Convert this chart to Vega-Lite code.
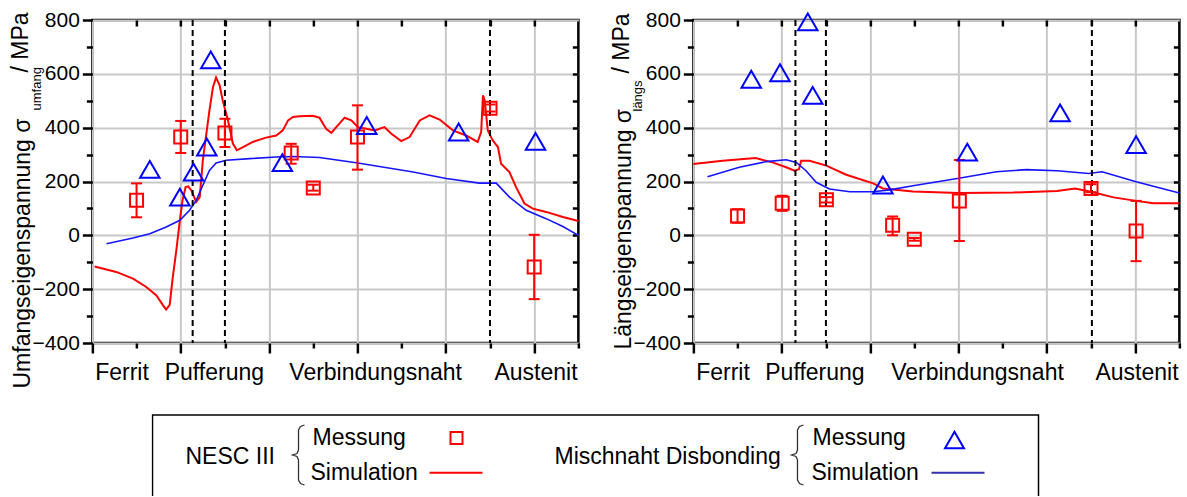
{
  "$schema": "https://vega.github.io/schema/vega-lite/v6.json",
  "padding": {"left": 8, "top": 7, "right": 0, "bottom": 0},
  "spacing": 24,
  "center": true,
  "config": {
    "font": "Liberation Sans",
    "view": {"stroke": "black", "strokeWidth": 2.5},
    "axis": {"domain": false, "tickColor": "black", "tickWidth": 2.5, "gridColor": "#c8c8c8", "gridWidth": 2, "labelFontSize": 21, "titleFontSize": 23, "titleFontWeight": "normal", "labelColor": "black", "titleColor": "black", "labelFlush": false, "labelOverlap": false, "labelBound": false}
  },
  "datasets": {
    "umfNescSim": [
      {"x":0.05,"y":-116},{"x":0.54,"y":-136},{"x":0.92,"y":-161},{"x":1.22,"y":-192},{"x":1.45,"y":-223},{"x":1.60,"y":-260},{"x":1.67,"y":-276},{"x":1.75,"y":-258},{"x":1.82,"y":-155},{"x":1.90,"y":-56},{"x":1.98,"y":56},{"x":2.04,"y":130},{"x":2.11,"y":179},{"x":2.17,"y":182},{"x":2.24,"y":167},{"x":2.35,"y":124},{"x":2.43,"y":142},{"x":2.50,"y":279},{"x":2.58,"y":378},{"x":2.65,"y":464},{"x":2.73,"y":551},{"x":2.80,"y":586},{"x":2.88,"y":557},{"x":2.95,"y":501},{"x":3.07,"y":427},{"x":3.18,"y":341},{"x":3.27,"y":316},{"x":3.41,"y":328},{"x":3.63,"y":347},{"x":3.93,"y":363},{"x":4.16,"y":371},{"x":4.31,"y":390},{"x":4.43,"y":427},{"x":4.54,"y":440},{"x":4.69,"y":442},{"x":4.99,"y":444},{"x":5.14,"y":437},{"x":5.29,"y":396},{"x":5.41,"y":381},{"x":5.52,"y":402},{"x":5.71,"y":437},{"x":5.86,"y":427},{"x":6.01,"y":402},{"x":6.20,"y":396},{"x":6.39,"y":390},{"x":6.61,"y":402},{"x":6.76,"y":378},{"x":6.99,"y":350},{"x":7.18,"y":365},{"x":7.41,"y":427},{"x":7.63,"y":446},{"x":7.86,"y":430},{"x":8.16,"y":390},{"x":8.46,"y":371},{"x":8.72,"y":347},{"x":8.80,"y":384},{"x":8.84,"y":520},{"x":8.88,"y":501},{"x":8.95,"y":390},{"x":9.06,"y":353},{"x":9.18,"y":328},{"x":9.25,"y":266},{"x":9.44,"y":235},{"x":9.59,"y":179},{"x":9.78,"y":118},{"x":9.97,"y":99},{"x":10.27,"y":87},{"x":10.65,"y":68},{"x":11.0,"y":53}
    ],
    "umfMndSim": [
      {"x":0.32,"y":-31},{"x":0.92,"y":-10},{"x":1.30,"y":6},{"x":1.67,"y":31},{"x":1.98,"y":56},{"x":2.20,"y":93},{"x":2.35,"y":130},{"x":2.50,"y":186},{"x":2.65,"y":241},{"x":2.80,"y":269},{"x":3.03,"y":279},{"x":3.56,"y":285},{"x":4.16,"y":291},{"x":4.54,"y":293},{"x":5.14,"y":289},{"x":6.01,"y":269},{"x":7.26,"y":235},{"x":8.01,"y":211},{"x":8.76,"y":194},{"x":9.14,"y":194},{"x":9.44,"y":142},{"x":9.82,"y":93},{"x":10.27,"y":62},{"x":10.65,"y":33},{"x":11.0,"y":0}
    ],
    "umfNescMess": [
      {"x":1.0,"y":130,"lo":67,"hi":193},{"x":2.0,"y":365,"lo":306,"hi":425},{"x":3.0,"y":380,"lo":328,"hi":433},{"x":4.5,"y":306,"lo":266,"hi":340},{"x":5.0,"y":176,"lo":166,"hi":188},{"x":6.0,"y":365,"lo":244,"hi":483},{"x":9.0,"y":472,"lo":460,"hi":486},{"x":10.0,"y":-118,"lo":-237,"hi":2}
    ],
    "umfMndMess": [
      {"x":1.30,"y":245},{"x":1.98,"y":142},{"x":2.29,"y":235},{"x":2.59,"y":328},{"x":2.68,"y":652},{"x":4.30,"y":270},{"x":6.21,"y":408},{"x":8.29,"y":384},{"x":10.03,"y":349}
    ],
    "umfDash": [{"x":2.27},{"x":3.0},{"x":9.0}],
    "lngNescSim": [
      {"x":0.0,"y":265},{"x":0.66,"y":277},{"x":1.41,"y":287},{"x":1.79,"y":271},{"x":2.10,"y":253},{"x":2.29,"y":240},{"x":2.39,"y":246},{"x":2.44,"y":277},{"x":2.63,"y":277},{"x":3.01,"y":259},{"x":3.46,"y":225},{"x":4.07,"y":193},{"x":4.29,"y":174},{"x":4.97,"y":163},{"x":6.01,"y":157},{"x":7.24,"y":159},{"x":8.23,"y":165},{"x":8.64,"y":174},{"x":9.0,"y":162},{"x":9.51,"y":141},{"x":10.02,"y":128},{"x":10.41,"y":119},{"x":11.0,"y":119}
    ],
    "lngMndSim": [
      {"x":0.32,"y":218},{"x":1.04,"y":253},{"x":1.65,"y":274},{"x":2.10,"y":281},{"x":2.33,"y":271},{"x":2.55,"y":240},{"x":2.78,"y":197},{"x":3.08,"y":172},{"x":3.54,"y":162},{"x":4.07,"y":162},{"x":4.44,"y":169},{"x":4.97,"y":184},{"x":6.01,"y":212},{"x":6.86,"y":236},{"x":7.54,"y":244},{"x":8.23,"y":240},{"x":8.95,"y":230},{"x":9.25,"y":236},{"x":10.02,"y":199},{"x":11.0,"y":157}
    ],
    "lngNescMess": [
      {"x":1.0,"y":72,"lo":47,"hi":97},{"x":2.01,"y":119,"lo":91,"hi":147},{"x":3.01,"y":132,"lo":122,"hi":142},{"x":4.51,"y":37,"lo":0,"hi":70},{"x":5.0,"y":-15,"lo":-20,"hi":-10},{"x":6.02,"y":128,"lo":-21,"hi":280},{"x":9.0,"y":174,"lo":160,"hi":190},{"x":10.02,"y":16,"lo":-96,"hi":128}
    ],
    "lngMndMess": [
      {"x":1.31,"y":580},{"x":1.96,"y":604},{"x":2.59,"y":793},{"x":2.70,"y":520},{"x":4.29,"y":187},{"x":6.2,"y":309},{"x":8.3,"y":455},{"x":10.02,"y":337}
    ],
    "lngDash": [{"x":2.31},{"x":3.0},{"x":9.02}],
    "legBox": [{"x":1,"x2":887,"y":1,"y2":200}],
    "legText": [
      {"t":"NESC III","lx":34,"ly":43},{"t":"Messung","lx":161,"ly":24},{"t":"Simulation","lx":159,"ly":59},
      {"t":"Mischnaht Disbonding","lx":403,"ly":43},{"t":"Messung","lx":661,"ly":24},{"t":"Simulation","lx":660,"ly":59}
    ],
    "legBrace": [
      {"b":1,"o":1,"lx":153,"ly":11},{"b":1,"o":2,"lx":149,"ly":12.5},{"b":1,"o":3,"lx":147,"ly":16},{"b":1,"o":4,"lx":147,"ly":36},{"b":1,"o":5,"lx":145.5,"ly":39.5},{"b":1,"o":6,"lx":141,"ly":41},{"b":1,"o":7,"lx":145.5,"ly":42.5},{"b":1,"o":8,"lx":147,"ly":46},{"b":1,"o":9,"lx":147,"ly":66},{"b":1,"o":10,"lx":149,"ly":69.5},{"b":1,"o":11,"lx":153,"ly":71},
      {"b":2,"o":1,"lx":652,"ly":11},{"b":2,"o":2,"lx":648,"ly":12.5},{"b":2,"o":3,"lx":646,"ly":16},{"b":2,"o":4,"lx":646,"ly":36},{"b":2,"o":5,"lx":644.5,"ly":39.5},{"b":2,"o":6,"lx":640,"ly":41},{"b":2,"o":7,"lx":644.5,"ly":42.5},{"b":2,"o":8,"lx":646,"ly":46},{"b":2,"o":9,"lx":646,"ly":66},{"b":2,"o":10,"lx":648,"ly":69.5},{"b":2,"o":11,"lx":652,"ly":71}
    ],
    "legSquare": [{"lx":305,"ly":24}],
    "legTriangle": [{"lx":803,"ly":26}],
    "legRed": [{"lx":278,"lx2":331,"ly":58.7}],
    "legBlue": [{"lx":780,"lx2":833,"ly":58.7}]
  },
  "vconcat": [
    {
      "spacing": 24,
      "hconcat": [
        {
          "width": 486, "height": 323,
          "resolve": {"axis": {"x": "independent", "y": "independent"}},
          "layer": [
            {
              "data": {"name": "umfNescSim"},
              "mark": {"type": "line", "color": "#ff0000", "strokeWidth": 2},
              "encoding": {
                "x": {"field": "x", "type": "quantitative", "scale": {"domain": [0, 11], "nice": false, "zero": false},
                  "axis": {"orient": "bottom", "values": [0, 2, 4, 6, 8, 10], "labels": false, "grid": true, "tickSize": 10, "title": null}},
                "y": {"field": "y", "type": "quantitative", "scale": {"domain": [-400, 800], "nice": false, "zero": false},
                  "axis": {"orient": "left", "values": [-400, -200, 0, 200, 400, 600, 800], "grid": true, "tickSize": 10, "labelPadding": 3, "title": "Umfangseigenspannung σ", "titleX": -63, "titleY": 368, "titleAngle": 270, "titleAlign": "left", "titleBaseline": "alphabetic"}}
              }
            },
            {
              "data": {"name": "umfMndSim"},
              "mark": {"type": "line", "color": "#1515ff", "strokeWidth": 1.6},
              "encoding": {
                "x": {"field": "x", "type": "quantitative", "scale": {"domain": [0, 11], "nice": false, "zero": false},
                  "axis": {"orient": "bottom", "values": [1, 3, 5, 7, 9, 11], "labels": false, "grid": false, "tickSize": 5, "title": null}},
                "y": {"field": "y", "type": "quantitative", "scale": {"domain": [-400, 800], "nice": false, "zero": false},
                  "axis": {"orient": "left", "values": [-300, -100, 100, 300, 500, 700], "labels": false, "grid": false, "tickSize": 6, "title": "umfang", "titleFontSize": 13, "titleX": -52, "titleY": 90, "titleAngle": 270, "titleAlign": "left", "titleBaseline": "alphabetic"}}
              }
            },
            {
              "data": {"name": "umfDash"},
              "mark": {"type": "rule", "color": "black", "strokeWidth": 2, "strokeDash": [6, 4]},
              "encoding": {
                "x": {"field": "x", "type": "quantitative", "scale": {"domain": [0, 11], "nice": false, "zero": false},
                  "axis": {"orient": "top", "values": [1, 2, 3, 4, 5, 6, 7, 8, 9, 10], "labels": false, "grid": false, "tickSize": -6, "title": null}}
              }
            },
            {
              "data": {"name": "umfNescMess"},
              "mark": {"type": "rule", "color": "#ff0000", "strokeWidth": 2},
              "encoding": {
                "x": {"field": "x", "type": "quantitative", "scale": {"domain": [0, 11], "nice": false, "zero": false}, "axis": null},
                "y": {"field": "lo", "type": "quantitative", "scale": {"domain": [-400, 800], "nice": false, "zero": false},
                  "axis": {"orient": "right", "values": [-300, -200, -100, 0, 100, 200, 300, 400, 500, 600, 700], "labels": false, "grid": false, "tickSize": -6, "title": null}},
                "y2": {"field": "hi"}
              }
            },
            {
              "data": {"name": "umfNescMess"},
              "mark": {"type": "tick", "orient": "horizontal", "color": "#ff0000", "size": 11, "thickness": 2, "opacity": 1},
              "encoding": {
                "x": {"field": "x", "type": "quantitative", "scale": {"domain": [0, 11], "nice": false, "zero": false}, "axis": null},
                "y": {"field": "lo", "type": "quantitative", "scale": {"domain": [-400, 800], "nice": false, "zero": false}, "axis": null}
              }
            },
            {
              "data": {"name": "umfNescMess"},
              "mark": {"type": "tick", "orient": "horizontal", "color": "#ff0000", "size": 11, "thickness": 2, "opacity": 1},
              "encoding": {
                "x": {"field": "x", "type": "quantitative", "scale": {"domain": [0, 11], "nice": false, "zero": false}, "axis": null},
                "y": {"field": "hi", "type": "quantitative", "scale": {"domain": [-400, 800], "nice": false, "zero": false}, "axis": null}
              }
            },
            {
              "data": {"name": "umfNescMess"},
              "mark": {"type": "point", "shape": "square", "filled": false, "color": "#ff0000", "strokeWidth": 2, "size": 169, "opacity": 1},
              "encoding": {
                "x": {"field": "x", "type": "quantitative", "scale": {"domain": [0, 11], "nice": false, "zero": false},
                  "axis": {"orient": "bottom", "values": [0.66, 2.75, 6.4, 10.03], "labelExpr": "datum.value < 1 ? 'Ferrit' : datum.value < 4 ? 'Pufferung' : datum.value < 8 ? 'Verbindungsnaht' : 'Austenit'", "ticks": false, "grid": false, "labelFontSize": 23, "labelPadding": 18, "title": null}},
                "y": {"field": "y", "type": "quantitative", "scale": {"domain": [-400, 800], "nice": false, "zero": false},
                  "axis": {"orient": "left", "labels": false, "ticks": false, "grid": false, "title": "/ MPa", "titleX": -65, "titleY": 52, "titleAngle": 270, "titleAlign": "left", "titleBaseline": "alphabetic"}}
              }
            },
            {
              "data": {"name": "umfMndMess"},
              "mark": {"type": "point", "shape": "triangle-up", "filled": false, "color": "#0000ff", "strokeWidth": 2, "size": 380, "opacity": 1},
              "encoding": {
                "x": {"field": "x", "type": "quantitative", "scale": {"domain": [0, 11], "nice": false, "zero": false}, "axis": null},
                "y": {"field": "y", "type": "quantitative", "scale": {"domain": [-400, 800], "nice": false, "zero": false}, "axis": null}
              }
            }
          ]
        },
        {
          "width": 486, "height": 323,
          "resolve": {"axis": {"x": "independent", "y": "independent"}},
          "layer": [
            {
              "data": {"name": "lngNescSim"},
              "mark": {"type": "line", "color": "#ff0000", "strokeWidth": 2},
              "encoding": {
                "x": {"field": "x", "type": "quantitative", "scale": {"domain": [0, 11], "nice": false, "zero": false},
                  "axis": {"orient": "bottom", "values": [0, 2, 4, 6, 8, 10], "labels": false, "grid": true, "tickSize": 10, "title": null}},
                "y": {"field": "y", "type": "quantitative", "scale": {"domain": [-400, 800], "nice": false, "zero": false},
                  "axis": {"orient": "left", "values": [-400, -200, 0, 200, 400, 600, 800], "grid": true, "tickSize": 10, "labelPadding": 3, "title": "Längseigenspannung σ", "titleX": -63, "titleY": 329, "titleAngle": 270, "titleAlign": "left", "titleBaseline": "alphabetic"}}
              }
            },
            {
              "data": {"name": "lngMndSim"},
              "mark": {"type": "line", "color": "#1515ff", "strokeWidth": 1.6},
              "encoding": {
                "x": {"field": "x", "type": "quantitative", "scale": {"domain": [0, 11], "nice": false, "zero": false},
                  "axis": {"orient": "bottom", "values": [1, 3, 5, 7, 9, 11], "labels": false, "grid": false, "tickSize": 5, "title": null}},
                "y": {"field": "y", "type": "quantitative", "scale": {"domain": [-400, 800], "nice": false, "zero": false},
                  "axis": {"orient": "left", "values": [-300, -100, 100, 300, 500, 700], "labels": false, "grid": false, "tickSize": 6, "title": "längs", "titleFontSize": 13, "titleX": -52, "titleY": 91, "titleAngle": 270, "titleAlign": "left", "titleBaseline": "alphabetic"}}
              }
            },
            {
              "data": {"name": "lngDash"},
              "mark": {"type": "rule", "color": "black", "strokeWidth": 2, "strokeDash": [6, 4]},
              "encoding": {
                "x": {"field": "x", "type": "quantitative", "scale": {"domain": [0, 11], "nice": false, "zero": false},
                  "axis": {"orient": "top", "values": [1, 2, 3, 4, 5, 6, 7, 8, 9, 10], "labels": false, "grid": false, "tickSize": -6, "title": null}}
              }
            },
            {
              "data": {"name": "lngNescMess"},
              "mark": {"type": "rule", "color": "#ff0000", "strokeWidth": 2},
              "encoding": {
                "x": {"field": "x", "type": "quantitative", "scale": {"domain": [0, 11], "nice": false, "zero": false}, "axis": null},
                "y": {"field": "lo", "type": "quantitative", "scale": {"domain": [-400, 800], "nice": false, "zero": false},
                  "axis": {"orient": "right", "values": [-300, -200, -100, 0, 100, 200, 300, 400, 500, 600, 700], "labels": false, "grid": false, "tickSize": -6, "title": null}},
                "y2": {"field": "hi"}
              }
            },
            {
              "data": {"name": "lngNescMess"},
              "mark": {"type": "tick", "orient": "horizontal", "color": "#ff0000", "size": 11, "thickness": 2, "opacity": 1},
              "encoding": {
                "x": {"field": "x", "type": "quantitative", "scale": {"domain": [0, 11], "nice": false, "zero": false}, "axis": null},
                "y": {"field": "lo", "type": "quantitative", "scale": {"domain": [-400, 800], "nice": false, "zero": false}, "axis": null}
              }
            },
            {
              "data": {"name": "lngNescMess"},
              "mark": {"type": "tick", "orient": "horizontal", "color": "#ff0000", "size": 11, "thickness": 2, "opacity": 1},
              "encoding": {
                "x": {"field": "x", "type": "quantitative", "scale": {"domain": [0, 11], "nice": false, "zero": false}, "axis": null},
                "y": {"field": "hi", "type": "quantitative", "scale": {"domain": [-400, 800], "nice": false, "zero": false}, "axis": null}
              }
            },
            {
              "data": {"name": "lngNescMess"},
              "mark": {"type": "point", "shape": "square", "filled": false, "color": "#ff0000", "strokeWidth": 2, "size": 169, "opacity": 1},
              "encoding": {
                "x": {"field": "x", "type": "quantitative", "scale": {"domain": [0, 11], "nice": false, "zero": false},
                  "axis": {"orient": "bottom", "values": [0.66, 2.74, 6.42, 10.03], "labelExpr": "datum.value < 1 ? 'Ferrit' : datum.value < 4 ? 'Pufferung' : datum.value < 8 ? 'Verbindungsnaht' : 'Austenit'", "ticks": false, "grid": false, "labelFontSize": 23, "labelPadding": 18, "title": null}},
                "y": {"field": "y", "type": "quantitative", "scale": {"domain": [-400, 800], "nice": false, "zero": false},
                  "axis": {"orient": "left", "labels": false, "ticks": false, "grid": false, "title": "/ MPa", "titleX": -65, "titleY": 53, "titleAngle": 270, "titleAlign": "left", "titleBaseline": "alphabetic"}}
              }
            },
            {
              "data": {"name": "lngMndMess"},
              "mark": {"type": "point", "shape": "triangle-up", "filled": false, "color": "#0000ff", "strokeWidth": 2, "size": 380, "opacity": 1},
              "encoding": {
                "x": {"field": "x", "type": "quantitative", "scale": {"domain": [0, 11], "nice": false, "zero": false}, "axis": null},
                "y": {"field": "y", "type": "quantitative", "scale": {"domain": [-400, 800], "nice": false, "zero": false}, "axis": null}
              }
            }
          ]
        }
      ]
    },
    {
      "width": 974, "height": 82,
      "view": {"stroke": null},
      "layer": [
        {
          "data": {"name": "legBox"},
          "mark": {"type": "rect", "filled": false, "stroke": "black", "strokeWidth": 1.5, "clip": true},
          "encoding": {
            "x": {"field": "x", "type": "quantitative", "scale": {"domain": [0, 974], "nice": false, "zero": false}, "axis": null},
            "x2": {"field": "x2"},
            "y": {"field": "y", "type": "quantitative", "scale": {"domain": [0, 82], "nice": false, "zero": false, "reverse": true}, "axis": null},
            "y2": {"field": "y2"}
          }
        },
        {
          "data": {"name": "legText"},
          "mark": {"type": "text", "align": "left", "baseline": "middle", "fontSize": 23, "color": "black"},
          "encoding": {
            "x": {"field": "lx", "type": "quantitative", "scale": {"domain": [0, 974], "nice": false, "zero": false}, "axis": null},
            "y": {"field": "ly", "type": "quantitative", "scale": {"domain": [0, 82], "nice": false, "zero": false, "reverse": true}, "axis": null},
            "text": {"field": "t"}
          }
        },
        {
          "data": {"name": "legBrace"},
          "mark": {"type": "line", "color": "#333333", "strokeWidth": 1.3},
          "encoding": {
            "x": {"field": "lx", "type": "quantitative", "scale": {"domain": [0, 974], "nice": false, "zero": false}, "axis": null},
            "y": {"field": "ly", "type": "quantitative", "scale": {"domain": [0, 82], "nice": false, "zero": false, "reverse": true}, "axis": null},
            "detail": {"field": "b"},
            "order": {"field": "o", "type": "quantitative"}
          }
        },
        {
          "data": {"name": "legSquare"},
          "mark": {"type": "point", "shape": "square", "filled": false, "color": "#ff0000", "strokeWidth": 2, "size": 144, "opacity": 1},
          "encoding": {
            "x": {"field": "lx", "type": "quantitative", "scale": {"domain": [0, 974], "nice": false, "zero": false}, "axis": null},
            "y": {"field": "ly", "type": "quantitative", "scale": {"domain": [0, 82], "nice": false, "zero": false, "reverse": true}, "axis": null}
          }
        },
        {
          "data": {"name": "legTriangle"},
          "mark": {"type": "point", "shape": "triangle-up", "filled": false, "color": "#0000ff", "strokeWidth": 2, "size": 360, "opacity": 1},
          "encoding": {
            "x": {"field": "lx", "type": "quantitative", "scale": {"domain": [0, 974], "nice": false, "zero": false}, "axis": null},
            "y": {"field": "ly", "type": "quantitative", "scale": {"domain": [0, 82], "nice": false, "zero": false, "reverse": true}, "axis": null}
          }
        },
        {
          "data": {"name": "legRed"},
          "mark": {"type": "rule", "color": "#ff0000", "strokeWidth": 2},
          "encoding": {
            "x": {"field": "lx", "type": "quantitative", "scale": {"domain": [0, 974], "nice": false, "zero": false}, "axis": null},
            "x2": {"field": "lx2"},
            "y": {"field": "ly", "type": "quantitative", "scale": {"domain": [0, 82], "nice": false, "zero": false, "reverse": true}, "axis": null}
          }
        },
        {
          "data": {"name": "legBlue"},
          "mark": {"type": "rule", "color": "#3030b0", "strokeWidth": 2},
          "encoding": {
            "x": {"field": "lx", "type": "quantitative", "scale": {"domain": [0, 974], "nice": false, "zero": false}, "axis": null},
            "x2": {"field": "lx2"},
            "y": {"field": "ly", "type": "quantitative", "scale": {"domain": [0, 82], "nice": false, "zero": false, "reverse": true}, "axis": null}
          }
        }
      ]
    }
  ]
}
